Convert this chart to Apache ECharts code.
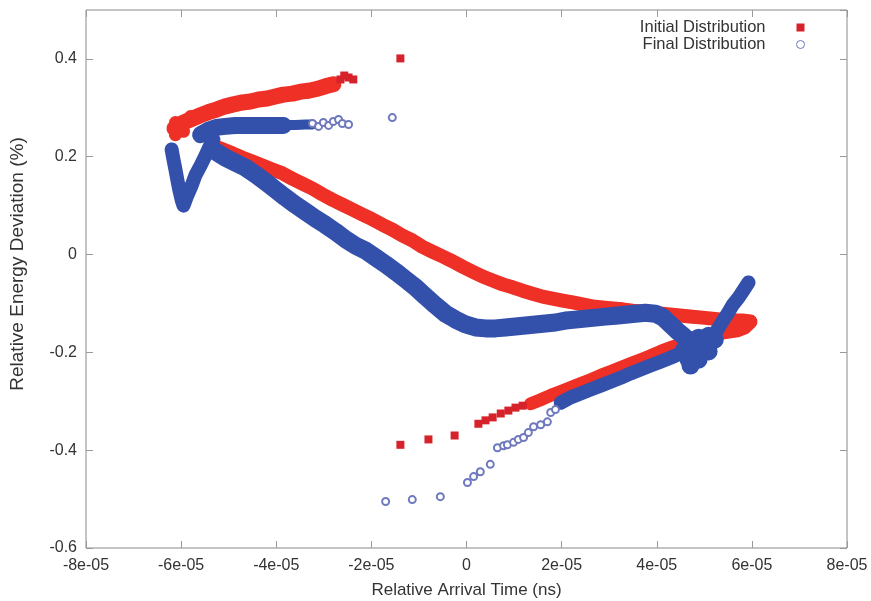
<!DOCTYPE html>
<html>
<head>
<meta charset="utf-8">
<script src="https://cdn.jsdelivr.net/npm/echarts@6/dist/echarts.min.js"></script>
<style>
html,body{margin:0;padding:0;background:#fff;}
#chart{width:871px;height:601px;}
</style>
</head>
<body>
<div id="chart"></div>
<script>
// ---- Data ----
var xTicks = [-8e-5, -6e-5, -4e-5, -2e-5, 0, 2e-5, 4e-5, 6e-5, 8e-5];
var yTicks = [-0.6, -0.4, -0.2, 0, 0.2, 0.4];

// Initial distribution: dense band centre-lines
var redUpperArm = [
  [-6.14e-5,0.258],[-5.95e-5,0.270],[-5.76e-5,0.278],[-5.59e-5,0.285],[-5.43e-5,0.291],[-5.24e-5,0.297],
  [-5.07e-5,0.303],[-4.90e-5,0.307],[-4.71e-5,0.311],[-4.54e-5,0.313],[-4.37e-5,0.317],[-4.19e-5,0.319],
  [-4.02e-5,0.323],[-3.85e-5,0.327],[-3.66e-5,0.329],[-3.49e-5,0.333],[-3.32e-5,0.335],[-3.13e-5,0.339],
  [-2.97e-5,0.344],[-2.80e-5,0.348]
];
var redTip = [[-6.12e-5,0.245],[-5.95e-5,0.252],[-6.12e-5,0.270],[-5.80e-5,0.282]];
var redDiagonal = [
  [-5.34e-5,0.223],[-5.13e-5,0.215],[-4.92e-5,0.207],[-4.71e-5,0.198],[-4.50e-5,0.190],[-4.29e-5,0.182],
  [-4.08e-5,0.174],[-3.87e-5,0.166],[-3.66e-5,0.155],[-3.45e-5,0.145],[-3.24e-5,0.135],[-3.03e-5,0.123],
  [-2.82e-5,0.112],[-2.61e-5,0.102],[-2.40e-5,0.092],[-2.19e-5,0.082],[-1.98e-5,0.072],[-1.77e-5,0.061],
  [-1.56e-5,0.051],[-1.35e-5,0.039],[-1.14e-5,0.029],[-0.93e-5,0.016],[-0.72e-5,0.006],[-0.50e-5,-0.004],
  [-0.29e-5,-0.014],[-0.08e-5,-0.025],[0.13e-5,-0.035],[0.34e-5,-0.045],[0.55e-5,-0.053],[0.76e-5,-0.061],
  [0.97e-5,-0.067],[1.18e-5,-0.074],[1.39e-5,-0.080],[1.60e-5,-0.086],[1.81e-5,-0.090],[2.02e-5,-0.094],
  [2.23e-5,-0.098],[2.44e-5,-0.102],[2.65e-5,-0.106],[2.86e-5,-0.108],[3.07e-5,-0.110],[3.28e-5,-0.112],
  [3.49e-5,-0.115],[3.70e-5,-0.117],[3.91e-5,-0.119],[4.12e-5,-0.121],[4.33e-5,-0.123],[4.54e-5,-0.125],
  [4.75e-5,-0.127],[4.96e-5,-0.129],[5.17e-5,-0.131],[5.38e-5,-0.133],[5.59e-5,-0.135],[5.80e-5,-0.135],
  [5.97e-5,-0.137]
];
var redLowerArm = [
  [5.97e-5,-0.139],[5.85e-5,-0.150],[5.70e-5,-0.156],[5.55e-5,-0.158],[5.34e-5,-0.161],[5.13e-5,-0.166],
  [4.92e-5,-0.172],[4.71e-5,-0.178],[4.50e-5,-0.184],[4.29e-5,-0.190],[4.08e-5,-0.198],[3.87e-5,-0.207],
  [3.66e-5,-0.215],[3.45e-5,-0.223],[3.24e-5,-0.231],[3.03e-5,-0.239],[2.82e-5,-0.247],[2.61e-5,-0.256],
  [2.40e-5,-0.264],[2.19e-5,-0.272],[1.98e-5,-0.280],[1.77e-5,-0.288],[1.56e-5,-0.297],[1.35e-5,-0.305]
];
// Initial distribution: isolated particles
var redSparse = [
  [-2.65e-5,0.358],[-2.57e-5,0.366],[-2.48e-5,0.362],[-2.38e-5,0.358],[-1.39e-5,0.401],
  [1.18e-5,-0.309],[1.03e-5,-0.313],[0.88e-5,-0.319],[0.72e-5,-0.325],[0.55e-5,-0.333],[0.40e-5,-0.339],
  [0.25e-5,-0.346],[-0.25e-5,-0.370],[-0.80e-5,-0.378],[-1.39e-5,-0.389]
];

// Final distribution: dense band centre-lines
var blueSpike = [
  [-6.20e-5,0.215],[-6.16e-5,0.194],[-6.12e-5,0.174],[-6.08e-5,0.153],[-6.04e-5,0.133],[-5.99e-5,0.112],
  [-5.95e-5,0.100],[-5.87e-5,0.121],[-5.78e-5,0.141],[-5.70e-5,0.162],[-5.59e-5,0.182],[-5.49e-5,0.202],
  [-5.40e-5,0.221],[-5.32e-5,0.235]
];
var blueUpperArm = [
  [-5.59e-5,0.245],[-5.43e-5,0.254],[-5.26e-5,0.260],[-5.07e-5,0.262],[-4.86e-5,0.264],[-4.65e-5,0.264],
  [-4.44e-5,0.264],[-4.23e-5,0.264],[-4.02e-5,0.264],[-3.85e-5,0.264]
];
var blueUpperTail = [
  [-3.95e-5,0.264],[-3.81e-5,0.265],[-3.60e-5,0.265],[-3.39e-5,0.266],[-3.24e-5,0.266]
];
var blueMain = [
  [-5.28e-5,0.211],[-5.07e-5,0.198],[-4.86e-5,0.188],[-4.65e-5,0.178],[-4.44e-5,0.164],[-4.23e-5,0.149],
  [-4.02e-5,0.133],[-3.81e-5,0.117],[-3.60e-5,0.102],[-3.39e-5,0.088],[-3.18e-5,0.074],[-2.97e-5,0.061],
  [-2.76e-5,0.047],[-2.54e-5,0.031],[-2.33e-5,0.018],[-2.12e-5,0.008],[-1.91e-5,-0.006],[-1.70e-5,-0.020],
  [-1.49e-5,-0.035],[-1.28e-5,-0.051],[-1.07e-5,-0.067],[-0.86e-5,-0.086],[-0.65e-5,-0.104],[-0.44e-5,-0.121],
  [-0.23e-5,-0.133],[-0.02e-5,-0.143],[0.19e-5,-0.149],[0.40e-5,-0.151],[0.61e-5,-0.151],[0.82e-5,-0.149],
  [1.03e-5,-0.147],[1.24e-5,-0.145],[1.45e-5,-0.143],[1.66e-5,-0.141],[1.87e-5,-0.139],[2.08e-5,-0.135],
  [2.29e-5,-0.133],[2.50e-5,-0.131],[2.71e-5,-0.129],[2.92e-5,-0.127],[3.13e-5,-0.125],[3.34e-5,-0.123],
  [3.55e-5,-0.121],[3.76e-5,-0.119],[3.97e-5,-0.121],[4.14e-5,-0.129],[4.29e-5,-0.143],[4.44e-5,-0.157],
  [4.58e-5,-0.168]
];
var blueBlob = [
  [4.67e-5,-0.174],[4.88e-5,-0.170],[5.09e-5,-0.166],[4.58e-5,-0.194],[4.79e-5,-0.194],[5.01e-5,-0.190],
  [5.22e-5,-0.174],[4.67e-5,-0.215],[4.88e-5,-0.215],[5.09e-5,-0.198],[4.71e-5,-0.227]
];
var blueRise = [
  [5.20e-5,-0.165],[5.28e-5,-0.153],[5.38e-5,-0.137],[5.49e-5,-0.121],[5.59e-5,-0.104],[5.72e-5,-0.088],
  [5.83e-5,-0.072],[5.93e-5,-0.057]
];
var blueLowerArm = [
  [4.60e-5,-0.200],[4.50e-5,-0.202],[4.29e-5,-0.211],[4.08e-5,-0.219],[3.87e-5,-0.227],[3.66e-5,-0.235],
  [3.45e-5,-0.243],[3.24e-5,-0.252],[3.03e-5,-0.260],[2.82e-5,-0.268],[2.61e-5,-0.276],[2.40e-5,-0.284],
  [2.19e-5,-0.292],[1.98e-5,-0.303]
];
// Final distribution: isolated particles
var blueSparse = [
  [-3.24e-5,0.268],[-3.11e-5,0.262],[-3.01e-5,0.270],[-2.90e-5,0.264],[-2.80e-5,0.272],[-2.69e-5,0.276],
  [-2.61e-5,0.268],[-2.48e-5,0.266],[-1.56e-5,0.280],
  [-1.70e-5,-0.505],[-1.14e-5,-0.501],[-0.55e-5,-0.495],[0.02e-5,-0.466],[0.15e-5,-0.454],[0.29e-5,-0.444],
  [0.50e-5,-0.429],[0.65e-5,-0.395],[0.78e-5,-0.391],[0.86e-5,-0.389],[0.99e-5,-0.384],[1.09e-5,-0.378],
  [1.20e-5,-0.374],[1.30e-5,-0.364],[1.41e-5,-0.352],[1.56e-5,-0.348],[1.70e-5,-0.342],[1.77e-5,-0.323],
  [1.87e-5,-0.317]
];

var seriesNames = ['Initial Distribution', 'Final Distribution'];
var xAxisName = 'Relative Arrival Time (ns)';
var yAxisName = 'Relative Energy Deviation (%)';

// ---- Chart ----
var RED = '#ee3026', RED_SPARSE = '#d6232b', BLUE = '#3350ab', BLUE_SPARSE = '#6f79bd';
var FONT = 'Liberation Sans, Arial, sans-serif';

function fmtX(v) {
  if (Math.abs(v) < 1e-12) return '0';
  var s = v.toExponential(0);
  return s.replace(/e([+-])(\d)$/, function (m, sg, d) { return 'e' + sg + '0' + d; });
}
function fmtY(v) {
  var r = Math.round(v * 10) / 10;
  return r === 0 ? '0' : String(r);
}

var tickStyle = { show: true, inside: true, length: 7, lineStyle: { color: '#9a9a9a' } };
var noLine = { show: false, onZero: false };
var xMin = xTicks[0], xMax = xTicks[xTicks.length - 1], xInt = xTicks[1] - xTicks[0];
var yMin = yTicks[0], yInt = 0.2, yMax = 0.5;

function band(name, data, color, width, z) {
  return { name: name, type: 'line', data: data, showSymbol: false, symbol: 'none', silent: true, z: z,
    lineStyle: { color: color, width: width, cap: 'round', join: 'round' } };
}

var chart = echarts.init(document.getElementById('chart'), null, { renderer: 'canvas' });
chart.setOption({
  animation: false,
  backgroundColor: '#ffffff',
  grid: { left: 86, right: 24, top: 10, bottom: 53, containLabel: false, outerBoundsMode: 'none',
    show: true, borderColor: '#8a8a8a', borderWidth: 1, backgroundColor: 'transparent' },
  legend: {
    orient: 'vertical', right: 61, top: 14, align: 'right', itemGap: 0,
    itemWidth: 8, itemHeight: 8, selectedMode: false,
    textStyle: { fontFamily: FONT, fontSize: 16.5, color: '#333', padding: [0, 26, 0, 0] },
    data: [
      { name: seriesNames[0], icon: 'rect', itemStyle: { color: RED_SPARSE, borderWidth: 0 } },
      { name: seriesNames[1], icon: 'circle', itemStyle: { color: '#ffffff', borderColor: BLUE_SPARSE, borderWidth: 1 } }
    ]
  },
  xAxis: [{
    type: 'value', min: xMin, max: xMax, interval: xInt, position: 'bottom',
    name: xAxisName, nameLocation: 'middle', nameGap: 34,
    nameTextStyle: { fontFamily: FONT, fontSize: 17, color: '#333' },
    axisLine: noLine, splitLine: { show: false }, axisTick: tickStyle,
    axisLabel: { formatter: fmtX, margin: 10, fontFamily: FONT, fontSize: 16, color: '#333' }
  }, {
    type: 'value', min: xMin, max: xMax, interval: xInt, position: 'top',
    axisLine: noLine, splitLine: { show: false }, axisTick: tickStyle, axisLabel: { show: false }
  }],
  yAxis: [{
    type: 'value', min: yMin, max: yMax, interval: yInt, position: 'left',
    name: yAxisName, nameLocation: 'middle', nameGap: 59, nameRotate: 90,
    nameTextStyle: { fontFamily: FONT, fontSize: 19, color: '#333', padding: [0, 0, 0, 30] },
    axisLine: noLine, splitLine: { show: false }, axisTick: tickStyle,
    axisLabel: { formatter: fmtY, showMaxLabel: false, margin: 9, fontFamily: FONT, fontSize: 16, color: '#333' }
  }, {
    type: 'value', min: yMin, max: yMax, interval: yInt, position: 'right',
    axisLine: noLine, splitLine: { show: false }, axisTick: tickStyle, axisLabel: { show: false }
  }],
  series: [
    band(seriesNames[0], redUpperArm, RED, 16, 2),
    { name: seriesNames[0], type: 'scatter', symbol: 'circle', symbolSize: 13, itemStyle: { color: RED, opacity: 1 },
      data: redTip, silent: true, z: 2 },
    band(seriesNames[0], redDiagonal, RED, 14, 2),
    band(seriesNames[0], redLowerArm, RED, 13, 2),
    { name: seriesNames[0], type: 'scatter', symbol: 'rect', symbolSize: 8, itemStyle: { color: RED_SPARSE, opacity: 1 },
      data: redSparse, silent: true, z: 2 },
    band(seriesNames[1], blueSpike, BLUE, 14, 3),
    band(seriesNames[1], blueUpperArm, BLUE, 17, 3),
    band(seriesNames[1], blueUpperTail, BLUE, 10, 3),
    band(seriesNames[1], blueMain, BLUE, 18, 3),
    { name: seriesNames[1], type: 'scatter', symbol: 'circle', symbolSize: 18, itemStyle: { color: BLUE, opacity: 1 },
      data: blueBlob, silent: true, z: 3 },
    band(seriesNames[1], blueRise, BLUE, 14, 3),
    band(seriesNames[1], blueLowerArm, BLUE, 14, 3),
    { name: seriesNames[1], type: 'scatter', symbol: 'emptyCircle', symbolSize: 7,
      itemStyle: { color: BLUE_SPARSE, borderWidth: 1.2, opacity: 1 },
      data: blueSparse, silent: true, z: 4 }
  ]
});
</script>
</body>
</html>
